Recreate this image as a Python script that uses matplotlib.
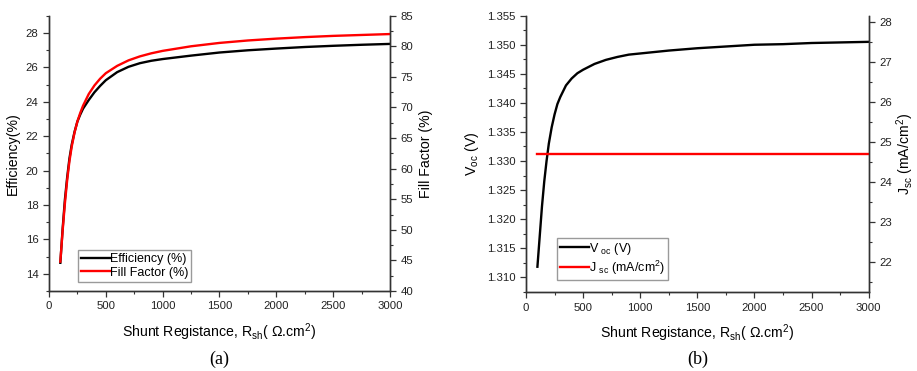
import matplotlib
matplotlib.use("Agg")
import matplotlib.pyplot as plt
from matplotlib.ticker import MultipleLocator

plt.rcParams['font.family'] = ['Liberation Sans', 'DejaVu Sans']
plt.rcParams['mathtext.default'] = 'regular'

# Shunt resistance sweep (Ohm.cm^2)
r_sh = [100, 120, 140, 160, 180, 200, 225, 250, 275, 300, 350, 400, 450, 500,
        600, 700, 800, 900, 1000, 1250, 1500, 1750, 2000, 2250, 2500, 2750, 3000]

efficiency = [14.64, 16.6, 18.3, 19.6, 20.7, 21.5, 22.25, 22.85, 23.25, 23.6, 24.1,
              24.55, 24.92, 25.25, 25.72, 26.03, 26.24, 26.38, 26.48, 26.68, 26.86,
              26.99, 27.09, 27.18, 27.25, 27.31, 27.36]

fill_factor = [44.8, 49.8, 54.3, 58.1, 61.2, 63.6, 65.9, 67.7, 69.1, 70.3, 72.2,
               73.6, 74.7, 75.6, 76.8, 77.7, 78.35, 78.85, 79.25, 80.0, 80.55,
               80.95, 81.25, 81.5, 81.7, 81.85, 82.0]

voc = [1.3118, 1.3170, 1.3222, 1.3265, 1.3300, 1.3330, 1.3358, 1.3380, 1.3398,
       1.3410, 1.3430, 1.3442, 1.3451, 1.3457, 1.3467, 1.3474, 1.3479, 1.3483,
       1.3485, 1.3490, 1.3494, 1.3497, 1.3500, 1.3501, 1.3503, 1.3504, 1.3505]

jsc = [24.7, 24.7, 24.7, 24.7, 24.7, 24.7, 24.7, 24.7, 24.7, 24.7, 24.7, 24.7,
       24.7, 24.7, 24.7, 24.7, 24.7, 24.7, 24.7, 24.7, 24.7, 24.7, 24.7, 24.7,
       24.7, 24.7, 24.7]

x_ticks = [0, 500, 1000, 1500, 2000, 2500, 3000]
xlabel = r'Shunt Registance, R$_{sh}$( $\Omega$.cm$^{2}$)'

TICK_FS = 8.2
LABEL_FS = 10.2
LW = 1.7
SPINE = '#333333'

fig = plt.figure(figsize=(9.17, 3.71), dpi=100)


def style_axis(ax):
    ax.spines['top'].set_visible(False)
    for s in ['left', 'right', 'bottom']:
        ax.spines[s].set_color(SPINE)
        ax.spines[s].set_linewidth(1.0)
    ax.tick_params(which='major', direction='out', length=4, width=0.9,
                   labelsize=TICK_FS, colors=SPINE, labelcolor='#222222')
    ax.tick_params(which='minor', direction='out', length=2.2, width=0.8,
                   colors=SPINE)


def style_legend(leg):
    leg.get_frame().set_edgecolor('#9a9a9a')
    leg.get_frame().set_linewidth(1.0)
    leg.get_frame().set_boxstyle('square', pad=0.0)


legend_kw = dict(loc='lower left', fontsize=9, handlelength=2.3,
                 handletextpad=0.0, borderpad=0.25, labelspacing=0.15,
                 fancybox=False, framealpha=1, borderaxespad=0)

# ---- (a) Efficiency and Fill Factor ----
ax1 = fig.add_axes([0.0534, 0.2156, 0.3719, 0.7421])
ax1b = ax1.twinx()
l1, = ax1.plot(r_sh, efficiency, color='black', lw=LW, label='Efficiency (%)')
l2, = ax1b.plot(r_sh, fill_factor, color='#ff0000', lw=LW, label='Fill Factor (%)')
ax1.set_xlim(0, 3000)
ax1.set_ylim(13, 29)
ax1b.set_ylim(40, 85)
ax1.set_xticks(x_ticks)
ax1.xaxis.set_minor_locator(MultipleLocator(250))
ax1.yaxis.set_major_locator(MultipleLocator(2))
ax1.yaxis.set_minor_locator(MultipleLocator(1))
ax1b.yaxis.set_major_locator(MultipleLocator(5))
ax1b.yaxis.set_minor_locator(MultipleLocator(2.5))
for a in (ax1, ax1b):
    style_axis(a)
ax1.set_xlabel(xlabel, fontsize=LABEL_FS, labelpad=7)
ax1.set_ylabel('Efficiency(%)', fontsize=LABEL_FS, labelpad=4)
ax1b.set_ylabel('Fill Factor (%)', fontsize=LABEL_FS, labelpad=4)
leg1 = ax1b.legend(handles=[l1, l2], bbox_to_anchor=(0.085, 0.033), **legend_kw)
style_legend(leg1)
fig.text(0.2393, 0.008, '(a)', family='Liberation Serif', fontsize=13,
         ha='center', va='bottom')

# ---- (b) Voc and Jsc ----
ax2 = fig.add_axes([0.5736, 0.2121, 0.3737, 0.7456])
ax2b = ax2.twinx()
l3, = ax2.plot(r_sh, voc, color='black', lw=LW, label='V $_{oc}$ (V)')
l4, = ax2b.plot(r_sh, jsc, color='#ff0000', lw=LW, label='J $_{sc}$ (mA/cm$^{2}$)')
ax2.set_xlim(0, 3000)
ax2.set_ylim(1.3074, 1.355)
ax2b.set_ylim(21.24, 28.17)
ax2.set_xticks(x_ticks)
ax2.xaxis.set_minor_locator(MultipleLocator(250))
ax2.yaxis.set_major_locator(MultipleLocator(0.005))
ax2.yaxis.set_minor_locator(MultipleLocator(0.0025))
ax2.yaxis.set_major_formatter(plt.FormatStrFormatter('%.3f'))
ax2b.yaxis.set_major_locator(MultipleLocator(1))
ax2b.yaxis.set_minor_locator(MultipleLocator(0.5))
for a in (ax2, ax2b):
    style_axis(a)
ax2.set_xlabel(xlabel, fontsize=LABEL_FS, labelpad=7)
ax2.set_ylabel('V$_{oc}$ (V)', fontsize=LABEL_FS, labelpad=4)
ax2b.set_ylabel('J$_{sc}$ (mA/cm$^{2}$)', fontsize=LABEL_FS, labelpad=2)
leg2 = ax2b.legend(handles=[l3, l4], bbox_to_anchor=(0.09, 0.045), **legend_kw)
style_legend(leg2)
fig.text(0.7604, 0.008, '(b)', family='Liberation Serif', fontsize=13,
         ha='center', va='bottom')

fig.savefig('out.png', dpi=100)
